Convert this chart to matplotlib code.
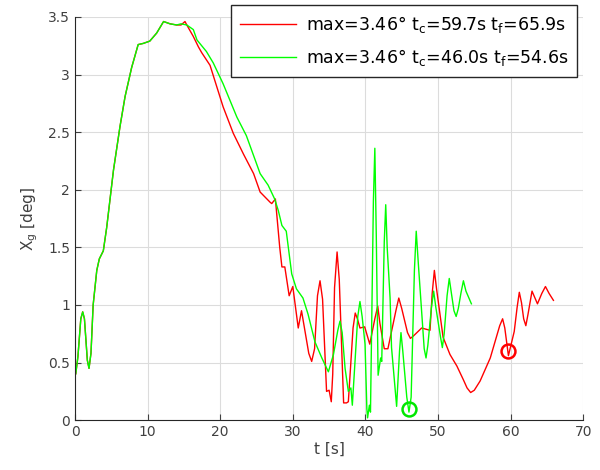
import numpy as np
import matplotlib.pyplot as plt

# shared start of both runs (red lies under green up to ~15 s)
t_start = [0.0, 0.1, 0.4, 0.8, 1.06, 1.3, 1.7, 1.93, 2.2, 2.5, 3.0, 3.35, 3.9, 4.36, 5.3,
           6.2, 6.9, 7.8, 8.7, 9.4, 10.3, 11.25, 12.2, 13.1, 14.0]
x_start = [0.40, 0.40, 0.55, 0.88, 0.94, 0.88, 0.52, 0.45, 0.58, 1.00, 1.30, 1.40, 1.47,
           1.67, 2.17, 2.55, 2.81, 3.06, 3.26, 3.27, 3.29, 3.36, 3.46, 3.44, 3.43]

t_red = [14.6, 15.15, 15.4, 16.3, 17.0, 17.45, 18.6, 19.5, 20.4, 21.8, 23.2, 24.6, 25.5,
         26.9, 27.1, 27.6, 28.2, 28.5, 28.9, 29.5, 30.0, 30.75, 31.2, 32.2, 32.6, 33.0,
         33.4, 33.75, 34.1, 34.65, 35.0, 35.3, 35.5, 35.75, 36.1, 36.4, 37.0, 37.4, 37.65,
         38.3, 38.6, 38.9, 39.25, 39.9, 40.6, 41.3, 41.7, 42.0, 42.6, 43.1, 44.2, 44.6,
         45.0, 45.8, 46.2, 46.6, 47.75, 48.9, 49.2, 49.5, 49.8, 50.7, 51.65, 52.6, 53.5,
         54.0, 54.5, 55.0, 55.8, 57.2, 58.5, 58.9, 59.2, 59.7, 60.5, 60.9, 61.2, 61.5,
         61.8, 62.1, 62.4, 62.95, 63.7, 64.3, 64.8, 65.3, 65.9]
x_red = [3.43, 3.46, 3.43, 3.33, 3.24, 3.19, 3.08, 2.90, 2.72, 2.49, 2.31, 2.14, 1.98,
         1.89, 1.88, 1.92, 1.50, 1.33, 1.33, 1.08, 1.16, 0.80, 0.95, 0.58, 0.51, 0.62,
         1.08, 1.21, 1.05, 0.25, 0.26, 0.16, 0.40, 1.15, 1.46, 1.22, 0.15, 0.15, 0.16,
         0.80, 0.93, 0.88, 0.80, 0.81, 0.66, 0.88, 0.99, 0.84, 0.62, 0.62, 0.95, 1.06,
         0.97, 0.76, 0.71, 0.73, 0.80, 0.78, 1.10, 1.30, 1.14, 0.72, 0.57, 0.47, 0.35,
         0.28, 0.24, 0.26, 0.34, 0.54, 0.82, 0.88, 0.80, 0.56, 0.77, 0.98, 1.11, 1.02,
         0.88, 0.82, 0.92, 1.12, 1.01, 1.10, 1.16, 1.10, 1.04]

t_green = [14.6, 15.4, 16.3, 16.8, 18.1, 19.05, 20.4, 22.3, 23.6, 25.5, 26.6, 27.5, 28.0,
           28.5, 29.1, 29.85, 30.5, 31.4, 32.1, 33.05, 34.0, 34.9, 35.6, 36.2, 36.5, 36.8,
           37.2, 37.65, 38.0, 38.2, 38.95, 39.25, 39.55, 39.95, 40.2, 40.3, 40.55, 40.7,
           41.1, 41.3, 41.5, 41.75, 42.1, 42.25, 42.6, 42.8, 43.0, 43.4, 43.6, 44.3, 44.7,
           44.9, 45.15, 45.7, 46.0, 46.3, 46.75, 47.0, 47.3, 48.1, 48.35, 48.6, 49.1, 49.4,
           49.7, 50.35, 50.6, 50.85, 51.25, 51.55, 51.85, 52.2, 52.5, 52.8, 53.15, 53.5,
           53.85, 54.6]
x_green = [3.44, 3.43, 3.39, 3.30, 3.20, 3.10, 2.92, 2.63, 2.47, 2.14, 2.04, 1.92, 1.82,
           1.69, 1.64, 1.27, 1.14, 1.06, 0.92, 0.68, 0.54, 0.42, 0.57, 0.78, 0.86, 0.76,
           0.45, 0.25, 0.28, 0.13, 0.90, 1.03, 0.90, 0.66, 0.10, 0.02, 0.13, 0.07, 1.90,
           2.36, 1.60, 0.39, 0.54, 0.51, 1.55, 1.87, 1.50, 1.06, 0.63, 0.12, 0.60, 0.76,
           0.60, 0.20, 0.07, 0.20, 1.30, 1.64, 1.35, 0.62, 0.54, 0.65, 0.98, 1.12, 0.98,
           0.72, 0.63, 0.75, 1.08, 1.23, 1.10, 0.95, 0.90, 0.97, 1.10, 1.21, 1.12, 1.01]

tc_red, xc_red = 59.7, 0.60
tc_green, xc_green = 46.0, 0.10

lab_red = "max=3.46° t$_\\mathregular{c}$=59.7s t$_\\mathregular{f}$=65.9s"
lab_green = "max=3.46° t$_\\mathregular{c}$=46.0s t$_\\mathregular{f}$=54.6s"

fig = plt.figure(figsize=(6, 4.7), dpi=100)
ax = fig.add_axes([0.125, 0.106, 0.847, 0.858])

ax.plot(t_start + t_red, x_start + x_red, color=(1, 0, 0), lw=1.0, label=lab_red)
ax.plot(t_start + t_green, x_start + x_green, color=(0, 1, 0), lw=1.0, label=lab_green)
ax.plot(tc_red, xc_red, "o", mfc="none", mec=(1, 0, 0), ms=10, mew=1.8)
ax.plot(tc_green, xc_green, "o", mfc="none", mec=(0, 0.9, 0), ms=10, mew=1.8)

ax.set_xlim(0, 70)
ax.set_ylim(0, 3.5)
ax.set_xticks(np.arange(0, 71, 10))
ax.set_yticks(np.arange(0, 3.6, 0.5))
ax.set_yticklabels(["0", "0.5", "1", "1.5", "2", "2.5", "3", "3.5"])
ax.grid(True, color="#dcdcdc", lw=0.8)
ax.set_axisbelow(True)
for s in ["top", "right"]:
    ax.spines[s].set_visible(False)
for s in ["left", "bottom"]:
    ax.spines[s].set_color("#262626")
ax.tick_params(direction="in", colors="#404040", labelsize=10, length=4)
ax.set_xlabel("t [s]", fontsize=11, color="#404040", labelpad=2)
ax.set_ylabel("X$_\\mathregular{g}$ [deg]", fontsize=11, color="#404040", labelpad=6)

leg = ax.legend(loc="upper right", bbox_to_anchor=(0.962, 0.989), bbox_transform=fig.transFigure,
                fontsize=12.5, fancybox=False, framealpha=1, edgecolor="#262626",
                borderpad=0.5, borderaxespad=0, handlelength=3.2, labelspacing=0.7,
                handletextpad=0.6)
leg.get_frame().set_linewidth(1.0)

plt.savefig("out.png")
